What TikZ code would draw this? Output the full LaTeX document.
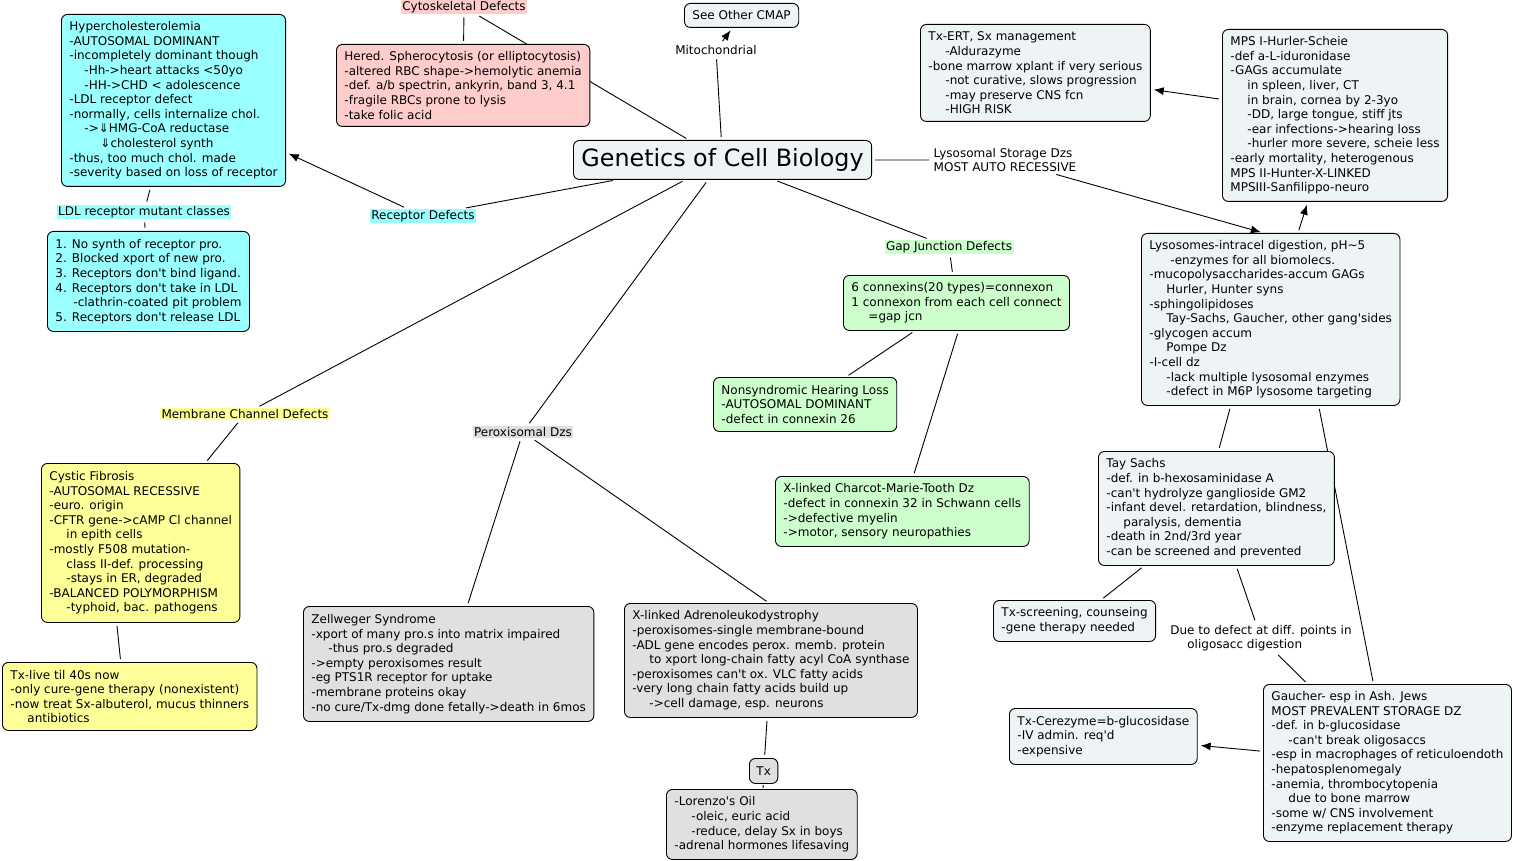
\documentclass[tikz,border=0pt]{standalone}
\usepackage{fontspec}
\setmainfont{DejaVu Sans}
\usetikzlibrary{arrows.meta}
\usetikzlibrary{backgrounds}
\definecolor{cmapblue}{RGB}{238,244,246}
\definecolor{cmapcyan}{RGB}{153,255,255}
\definecolor{cmappink}{RGB}{255,204,204}
\definecolor{cmapyellow}{RGB}{255,255,153}
\definecolor{cmapgreen}{RGB}{204,255,204}
\definecolor{cmapgrey}{RGB}{224,224,224}
\newcommand{\indA}{\hspace*{17pt}}
\newcommand{\apos}{\textquotesingle}
\tikzset{x=1pt, y=-1pt,
concept/.style={
draw,
line width=0.9pt,
rounded corners=6pt,
fill=cmapblue,
anchor=north west,
align=left,
inner xsep=8pt, inner ysep=3pt,
font=\fontsize{12}{14.6}\selectfont},
phrase/.style={
inner sep=1.5pt,
align=left,
font=\fontsize{12}{14.6}\selectfont},
link/.style={
draw,
line width=0.9pt,
shorten <=3pt, shorten >=3pt},
arr/.style={-{Latex[length=10pt,width=8pt]}}}

\begin{document}
\begin{tikzpicture}
\useasboundingbox (0,0) rectangle (1515,861);
% concepts
\node[concept, font=\fontsize{23.8}{28}\selectfont, minimum height=39pt] (gen) at (573,140) {Genetics of Cell Biology};
\node[concept, minimum height=24pt] (cmap) at (684,3) {See Other CMAP};
\node[concept, fill=cmapcyan, minimum height=172pt] (hyper) at (61,14) {Hypercholesterolemia\\-AUTOSOMAL DOMINANT\\-incompletely dominant though\\\hspace*{15pt}-Hh->heart attacks <50yo\\\hspace*{15pt}-HH->CHD < adolescence\\-LDL receptor defect\\-normally, cells internalize chol.\\\hspace*{15pt}->⇓HMG-CoA reductase\\\hspace*{31pt}⇓cholesterol synth\\-thus, too much chol. made\\-severity based on loss of receptor};
\node[concept, fill=cmapcyan, minimum height=100pt] (ldl) at (47,231) {1. No synth of receptor pro.\\2. Blocked xport of new pro.\\3. Receptors don\apos t bind ligand.\\4. Receptors don\apos t take in LDL\\\hspace*{18pt}-clathrin-coated pit problem\\5. Receptors don\apos t release LDL};
\node[concept, fill=cmappink, minimum height=82pt] (hered) at (336,44) {Hered. Spherocytosis (or elliptocytosis)\\-altered RBC shape->hemolytic anemia\\-def. a/b spectrin, ankyrin, band 3, 4.1\\-fragile RBCs prone to lysis\\-take folic acid};
\node[concept, minimum height=97pt] (txert) at (920,24) {Tx-ERT, Sx management\\\indA-Aldurazyme\\-bone marrow xplant if very serious\\\indA-not curative, slows progression\\\indA-may preserve CNS fcn\\\indA-HIGH RISK};
\node[concept, minimum height=172pt] (mps) at (1222,29) {MPS I-Hurler-Scheie\\-def a-L-iduronidase\\-GAGs accumulate\\\indA in spleen, liver, CT\\\indA in brain, cornea by 2-3yo\\\indA-DD, large tongue, stiff jts\\\indA-ear infections->hearing loss\\\indA-hurler more severe, scheie less\\-early mortality, heterogenous\\MPS II-Hunter-X-LINKED\\MPSIII-Sanfilippo-neuro};
\node[concept, fill=cmapgreen, minimum height=55pt] (conn) at (843,275) {6 connexins(20 types)=connexon\\1 connexon from each cell connect\\\indA=gap jcn};
\node[concept, minimum height=172pt] (lyso) at (1141,233) {Lysosomes-intracel digestion, pH\textasciitilde5\\\hspace*{21pt}-enzymes for all biomolecs.\\-mucopolysaccharides-accum GAGs\\\indA Hurler, Hunter syns\\-sphingolipidoses\\\indA Tay-Sachs, Gaucher, other gang\apos sides\\-glycogen accum\\\indA Pompe Dz\\-I-cell dz\\\indA-lack multiple lysosomal enzymes\\\indA-defect in M6P lysosome targeting};
\node[concept, fill=cmapgreen, minimum height=54pt] (nonsyn) at (713,377) {Nonsyndromic Hearing Loss\\-AUTOSOMAL DOMINANT\\-defect in connexin 26};
\node[concept, fill=cmapgreen, minimum height=70pt] (charcot) at (775,476) {X-linked Charcot-Marie-Tooth Dz\\-defect in connexin 32 in Schwann cells\\->defective myelin\\->motor, sensory neuropathies};
\node[concept, minimum height=114pt] (tay) at (1098,451) {Tay Sachs\\-def. in b-hexosaminidase A\\-can\apos t hydrolyze ganglioside GM2\\-infant devel. retardation, blindness,\\\indA paralysis, dementia\\-death in 2nd/3rd year\\-can be screened and prevented};
\node[concept, fill=cmapyellow, minimum height=159pt] (cf) at (41,463) {Cystic Fibrosis\\-AUTOSOMAL RECESSIVE\\-euro. origin\\-CFTR gene->cAMP Cl channel\\\indA in epith cells\\-mostly F508 mutation-\\\indA class II-def. processing\\\indA-stays in ER, degraded\\-BALANCED POLYMORPHISM\\\indA-typhoid, bac. pathogens};
\node[concept, fill=cmapyellow, minimum height=68pt] (txlive) at (2,662) {Tx-live til 40s now\\-only cure-gene therapy (nonexistent)\\-now treat Sx-albuterol, mucus thinners\\\indA antibiotics};
\node[concept, fill=cmapgrey, minimum height=115pt] (zell) at (303,606) {Zellweger Syndrome\\-xport of many pro.s into matrix impaired\\\indA-thus pro.s degraded\\->empty peroxisomes result\\-eg PTS1R receptor for uptake\\-membrane proteins okay\\-no cure/Tx-dmg done fetally->death in 6mos};
\node[concept, fill=cmapgrey, minimum height=114pt] (xald) at (624,603) {X-linked Adrenoleukodystrophy\\-peroxisomes-single membrane-bound\\-ADL gene encodes perox. memb. protein\\\indA to xport long-chain fatty acyl CoA synthase\\-peroxisomes can\apos t ox. VLC fatty acids\\-very long chain fatty acids build up\\\indA->cell damage, esp. neurons};
\node[concept, minimum height=41pt] (txscr) at (993,600) {Tx-screening, counseing\\-gene therapy needed};
\node[concept, fill=cmapgrey, minimum height=25pt, inner xsep=7pt] (tx) at (749,758) {Tx};
\node[concept, fill=cmapgrey, minimum height=70pt] (lorenzo) at (666,789) {-Lorenzo\apos s Oil\\\indA-oleic, euric acid\\\indA-reduce, delay Sx in boys\\-adrenal hormones lifesaving};
\node[concept, minimum height=56pt] (cerez) at (1009,708) {Tx-Cerezyme=b-glucosidase\\-IV admin. req\apos d\\-expensive};
\node[concept, minimum height=157pt] (gaucher) at (1263,684) {Gaucher- esp in Ash. Jews\\MOST PREVALENT STORAGE DZ\\-def. in b-glucosidase\\\indA-can\apos t break oligosaccs\\-esp in macrophages of reticuloendoth\\-hepatosplenomegaly\\-anemia, thrombocytopenia\\\indA due to bone marrow\\-some w/ CNS involvement\\-enzyme replacement therapy};
% linking phrases
\node[phrase, fill=cmappink] (cytoLbl) at (464,7) {Cytoskeletal Defects};
\node[phrase] (mitoLbl) at (716,50) {Mitochondrial};
\node[phrase, fill=cmapcyan] (recLbl) at (423,216) {Receptor Defects};
\node[phrase, fill=cmapcyan] (ldlLbl) at (144,212) {LDL receptor mutant classes};
\node[phrase, fill=cmapyellow] (memLbl) at (245,414) {Membrane Channel Defects};
\node[phrase, fill=cmapgrey] (peroxLbl) at (523,432) {Peroxisomal Dzs};
\node[phrase, fill=cmapgreen] (gapLbl) at (949,247) {Gap Junction Defects};
\node[phrase] (lysLbl) at (1005,160) {Lysosomal Storage Dzs\\MOST AUTO RECESSIVE};
\node[phrase] (dueLbl) at (1261,638) {Due to defect at diff. points in\\\indA oligosacc digestion};
% connectors
\begin{scope}[on background layer]
\fill[white] (0,0) rectangle (1515,861);
\draw[link] (gen) -- (cytoLbl);
\draw[link] (cytoLbl) -- (hered);
\draw[link] (gen) -- (mitoLbl);
\draw[link, arr] (mitoLbl) -- (cmap);
\draw[link] (gen) -- (recLbl);
\draw[link, arr] (recLbl) -- (hyper);
\draw[link] (hyper) -- (ldlLbl);
\draw[link] (ldlLbl) -- (ldl);
\draw[link] (gen) -- (memLbl);
\draw[link] (memLbl) -- (cf);
\draw[link] ([xshift=-24pt]cf.south) -- ([xshift=-9pt]txlive.north);
\draw[link] (gen) -- (peroxLbl);
\draw[link] (peroxLbl) -- (zell);
\draw[link] (peroxLbl) -- ([xshift=-2pt]xald.north);
\draw[link] (xald) -- (tx);
\draw[link, shorten <=1pt, shorten >=1pt] (tx) -- (lorenzo);
\draw[link] (gen) -- (gapLbl);
\draw[link] (gapLbl) -- (conn);
\draw[link] (conn) -- (nonsyn);
\draw[link] ([xshift=2pt]conn.south) -- ([xshift=11pt]charcot.north);
\draw[link] (gen) -- (lysLbl);
\draw[link, arr] (lysLbl) -- ([xshift=-7pt]lyso.north);
\draw[link, arr] (lyso) -- (mps);
\draw[link, arr] (mps) -- (txert);
\draw[link] ([xshift=-40pt]lyso.south) -- ([xshift=2pt]tay.north);
\draw[link] ([xshift=48pt]lyso.south) -- ([xshift=-14pt]gaucher.north);
\draw[link] (tay) -- (txscr);
\draw[link] (tay) -- (dueLbl);
\draw[link] (dueLbl) -- (gaucher);
\draw[link, arr] (gaucher) -- (cerez);
\end{scope}
\end{tikzpicture}
\end{document}
